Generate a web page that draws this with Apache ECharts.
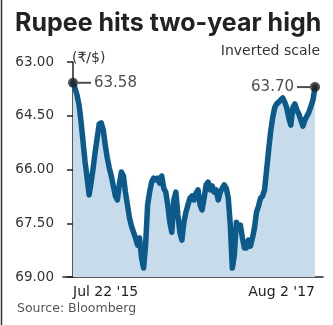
<!DOCTYPE html>
<html><head><meta charset="utf-8">
<script src="https://cdn.jsdelivr.net/npm/echarts@6/dist/echarts.min.js"></script>
<style>html,body{margin:0;padding:0;background:#fff}#c{width:333px;height:325px}</style>
</head><body><div id="c"></div>
<script>
// Rupee per dollar, Jul 22 2015 -> Aug 2 2017 (roughly evenly spaced)
const rupee = [
63.58,63.73,63.92,64.20,64.67,65.23,65.79,66.24,66.71,66.35,
65.96,65.51,65.12,64.73,64.70,64.90,65.32,65.68,65.96,66.18,
66.46,66.74,66.85,66.41,66.07,66.18,66.63,66.99,67.35,67.58,
67.75,67.91,68.11,67.91,68.47,68.75,68.11,66.99,66.63,66.35,
66.24,66.29,66.24,66.38,66.18,66.52,66.63,66.99,67.47,67.75,
66.85,66.63,67.27,67.75,67.97,67.47,67.19,66.99,66.80,66.74,
66.85,66.66,66.57,66.99,67.13,66.80,66.43,66.35,66.57,66.46,
66.63,66.57,66.85,66.63,66.52,66.43,66.52,66.80,67.55,68.75,
68.39,67.47,67.63,67.55,67.91,68.19,68.19,67.97,68.14,67.91,
67.63,67.19,67.02,66.80,66.74,66.57,66.01,65.46,64.95,64.56,
64.28,64.17,64.12,64.06,64.00,64.12,64.28,64.56,64.76,64.28,
64.17,64.34,64.45,64.62,64.79,64.62,64.51,64.40,64.23,64.06,
63.70
];
const xTickLabels = ["Jul 22 '15", "Aug 2 '17"];
const yTicks = [63.0, 64.5, 66.0, 67.5, 69.0];
const startValue = rupee[0];
const endValue = rupee[rupee.length - 1];

const FONT = '"DejaVu Sans", sans-serif';
const TFONT = 'Inter, "Noto Sans", sans-serif';
const chart = echarts.init(document.getElementById('c'), null, {renderer: 'canvas'});
const last = rupee.length - 1;
chart.setOption({
  animation: false,
  backgroundColor: '#fff',
  grid: [
    {left: 73, right: 18, top: 62, bottom: 48},
    {left: 63, right: 10, top: 62, bottom: 48}
  ],
  xAxis: [
    {gridIndex: 0, type: 'value', min: 0, max: last, interval: last,
     axisLine: {show: false}, axisTick: {show: false}, splitLine: {show: false},
     axisLabel: {show: true, margin: 8, fontFamily: FONT, fontSize: 14, color: '#222',
       alignMinLabel: 'left', alignMaxLabel: 'right',
       formatter: v => v === 0 ? xTickLabels[0] : xTickLabels[1]}},
    {gridIndex: 1, type: 'value', min: 0, max: 1,
     axisLine: {show: true, lineStyle: {color: '#222', width: 1.5}},
     axisTick: {show: false}, axisLabel: {show: false}, splitLine: {show: false}}
  ],
  yAxis: [
    {gridIndex: 0, type: 'value', inverse: true, min: yTicks[0], max: yTicks[yTicks.length-1],
     interval: 1.5, offset: 10,
     axisLine: {show: true, lineStyle: {color: '#222', width: 1.5}},
     axisTick: {show: true, length: 6, lineStyle: {color: '#222', width: 1.5}},
     splitLine: {show: false},
     axisLabel: {margin: 9, fontFamily: FONT, fontSize: 13.5, color: '#333',
       formatter: v => v.toFixed(2)}},
    {gridIndex: 1, type: 'value', show: false, min: 0, max: 1}
  ],
  series: [
    {type: 'line', xAxisIndex: 0, yAxisIndex: 0,
     data: rupee.map((v, i) => [i, v]),
     symbol: 'none',
     lineStyle: {color: '#0c5a8a', width: 5.5, join: 'round', cap: 'round'},
     areaStyle: {color: '#c8dbeb', origin: 'end', opacity: 1},
     z: 2},
    {type: 'scatter', xAxisIndex: 0, yAxisIndex: 0,
     symbolSize: 10, itemStyle: {color: '#222'}, z: 5,
     data: [
       {value: [0, startValue], label: {show: true, position: 'right', distance: 0,
         formatter: '{l|}{v|' + startValue.toFixed(2) + '}'}},
       {value: [last, endValue], label: {show: true, position: 'left', distance: 0,
         formatter: '{v|' + endValue.toFixed(2) + '}{l|}'}}
     ],
     label: {rich: {
       l: {width: 13, height: 2, backgroundColor: '#222'},
       v: {fontFamily: FONT, fontSize: 15, color: '#222', padding: [0, 3, 0, 3]}
     }}}
  ],
  graphic: [
    {type: 'line', shape: {x1: 1.5, y1: 0, x2: 1.5, y2: 325}, style: {stroke: '#333', lineWidth: 1.5}},
    {type: 'text', left: 15, top: 11, style: {text: 'Rupee hits two-year high', font: 'bold 25px ' + TFONT, fill: '#222'}},
    {type: 'text', left: 72, top: 51, style: {text: '(₹/$)', font: '14px ' + FONT, fill: '#333'}},
    {type: 'text', right: 13, top: 44, style: {text: 'Inverted scale', font: '14px ' + FONT, fill: '#333'}},
    {type: 'text', left: 17, top: 302, style: {text: 'Source: Bloomberg', font: '12.5px ' + FONT, fill: '#555'}}
  ]
});
</script></body></html>
